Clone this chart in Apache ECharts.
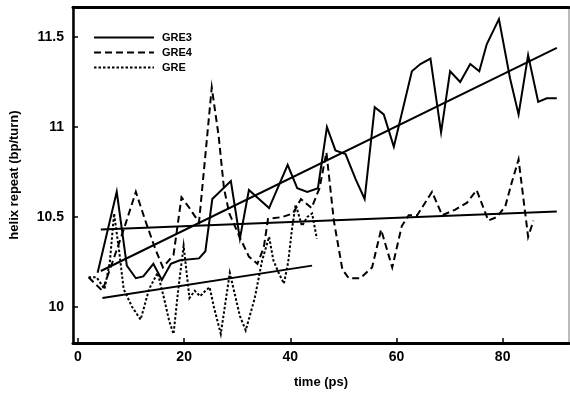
<!DOCTYPE html>
<html>
<head>
<meta charset="utf-8">
<script src="https://cdn.jsdelivr.net/npm/echarts@6/dist/echarts.min.js"></script>
<style>
  html, body { margin: 0; padding: 0; background: #fff; }
  #chart { width: 570px; height: 394px; }
</style>
</head>
<body>
<div id="chart"></div>
<script>
// Helix repeat of three DNA systems over a molecular dynamics run.
var gre3Time  = [3.7, 7.3, 9.2, 10.9, 12.3, 14.2, 15.8, 17.5, 19.2, 22.8, 24.0, 25.3, 28.8, 30.5, 32.2, 36.0, 39.5, 41.3, 43.2, 45.2, 46.9, 48.5, 50.4, 52.3, 54.0, 55.9, 57.6, 59.5, 62.9, 64.5, 66.4, 68.4, 70.1, 72.0, 73.9, 75.6, 77.0, 79.3, 81.4, 83.0, 84.8, 86.7, 88.3, 90.2];
var gre3Helix = [10.19, 10.64, 10.23, 10.16, 10.17, 10.24, 10.15, 10.24, 10.26, 10.27, 10.31, 10.60, 10.70, 10.38, 10.65, 10.55, 10.79, 10.66, 10.64, 10.66, 11.00, 10.87, 10.85, 10.71, 10.60, 11.11, 11.07, 10.89, 11.31, 11.35, 11.38, 10.97, 11.31, 11.25, 11.35, 11.31, 11.46, 11.60, 11.27, 11.07, 11.40, 11.14, 11.16, 11.16];

var gre4Time  = [2.0, 4.6, 6.5, 8.5, 10.9, 12.8, 14.6, 16.0, 18.0, 19.5, 21.0, 22.8, 25.2, 26.5, 27.5, 28.5, 30.6, 32.2, 33.8, 35.0, 35.8, 38.5, 40.5, 42.0, 44.0, 45.5, 46.8, 48.2, 49.8, 51.0, 53.2, 55.4, 57.1, 59.2, 61.0, 62.3, 63.9, 66.7, 68.6, 71.0, 73.3, 75.1, 77.3, 78.9, 80.5, 81.7, 83.0, 84.8, 85.8];
var gre4Helix = [10.165, 10.09, 10.25, 10.42, 10.64, 10.47, 10.32, 10.22, 10.29, 10.61, 10.55, 10.47, 11.22, 10.95, 10.66, 10.52, 10.38, 10.28, 10.24, 10.33, 10.49, 10.50, 10.52, 10.60, 10.55, 10.66, 10.86, 10.48, 10.21, 10.16, 10.16, 10.22, 10.43, 10.22, 10.45, 10.51, 10.51, 10.64, 10.51, 10.54, 10.58, 10.65, 10.48, 10.50, 10.56, 10.69, 10.82, 10.39, 10.48];

var greTime  = [2.0, 3.5, 5.0, 6.0, 6.8, 7.8, 8.6, 10.2, 11.8, 13.4, 15.0, 16.2, 17.2, 18.0, 18.9, 19.9, 21.0, 22.0, 23.0, 24.0, 24.8, 25.6, 26.9, 28.6, 30.5, 31.6, 33.3, 34.7, 36.0, 36.8, 37.8, 38.8, 39.6, 40.3, 41.0, 42.2, 43.2, 44.1, 45.0];
var greHelix = [10.165, 10.165, 10.10, 10.25, 10.52, 10.30, 10.10, 10.00, 9.93, 10.10, 10.19, 10.05, 9.92, 9.85, 10.10, 10.34, 10.05, 10.09, 10.06, 10.09, 10.11, 10.00, 9.85, 10.19, 9.95, 9.87, 10.05, 10.26, 10.39, 10.26, 10.19, 10.13, 10.25, 10.43, 10.57, 10.45, 10.50, 10.52, 10.38];

// Linear fits: [start time, end time] and [start value, end value]
var fitGre3Time  = [4.3, 90.2];
var fitGre3Helix = [10.20, 11.44];
var fitGre4Time  = [4.3, 90.2];
var fitGre4Helix = [10.43, 10.53];
var fitGreTime   = [4.6, 44.1];
var fitGreHelix  = [10.05, 10.23];

var xTicks = [0, 20, 40, 60, 80];
var yTicks = [10, 10.5, 11, 11.5];

function pairs(xs, ys) {
  return xs.map(function (x, i) { return [x, ys[i]]; });
}

var FONT = '"Liberation Sans", Arial, sans-serif';
var INK = '#000';

function lineSeries(name, data, type, width) {
  return {
    name: name,
    type: 'line',
    data: data,
    showSymbol: false,
    symbol: 'none',
    silent: true,
    animation: false,
    lineStyle: { color: INK, width: width, type: type, cap: 'butt', join: 'miter' },
    itemStyle: { color: INK }
  };
}

var chart = echarts.init(document.getElementById('chart'), null, { renderer: 'canvas' });

chart.setOption({
  backgroundColor: '#fff',
  animation: false,
  grid: {
    left: 72, right: 1, top: 7, bottom: 51,
    show: true, borderColor: '#777', borderWidth: 1, backgroundColor: 'transparent'
  },
  legend: {
    data: ['GRE3', 'GRE4', 'GRE'],
    orient: 'vertical',
    left: 93, top: 32, padding: 0,
    itemWidth: 60, itemHeight: 12, itemGap: 4,
    itemStyle: { opacity: 0 },
    textStyle: { color: INK, fontFamily: FONT, fontWeight: 'bold', fontSize: 11, padding: [0, 0, 0, 3] },
    selectedMode: false
  },
  xAxis: [{
    type: 'value', position: 'bottom',
    min: -0.94, max: 92.5,
    name: 'time (ps)', nameLocation: 'middle', nameGap: 33,
    nameTextStyle: { color: INK, fontFamily: FONT, fontWeight: 'bold', fontSize: 13 },
    axisLine: { show: true, onZero: false, lineStyle: { color: INK, width: 3 } },
    axisTick: { show: true, inside: true, length: 5, customValues: xTicks, lineStyle: { color: INK, width: 1.5 } },
    axisLabel: { customValues: xTicks, color: INK, fontFamily: FONT, fontWeight: 'bold', fontSize: 14, margin: 7 },
    splitLine: { show: false }
  }, {
    type: 'value', position: 'top',
    min: -0.94, max: 92.5,
    axisLine: { show: true, onZero: false, lineStyle: { color: INK, width: 3 } },
    axisTick: { show: false },
    axisLabel: { show: false },
    splitLine: { show: false }
  }],
  yAxis: {
    type: 'value',
    min: 9.8, max: 11.667,
    name: 'helix repeat (bp/turn)', nameLocation: 'middle', nameGap: 52, nameRotate: 90,
    nameTextStyle: { color: INK, fontFamily: FONT, fontWeight: 'bold', fontSize: 13 },
    axisLine: { show: true, onZero: false, lineStyle: { color: INK, width: 2.5 } },
    axisTick: { show: true, inside: true, length: 5, customValues: yTicks, lineStyle: { color: INK, width: 1.5 } },
    axisLabel: { customValues: yTicks, color: INK, fontFamily: FONT, fontWeight: 'bold', fontSize: 14, margin: 9 },
    splitLine: { show: false }
  },
  series: [
    lineSeries('GRE3', pairs(gre3Time, gre3Helix), 'solid', 2),
    lineSeries('GRE4', pairs(gre4Time, gre4Helix), [7, 4], 2),
    lineSeries('GRE', pairs(greTime, greHelix), [2.5, 2], 2),
    lineSeries('GRE3 fit', pairs(fitGre3Time, fitGre3Helix), 'solid', 2),
    lineSeries('GRE4 fit', pairs(fitGre4Time, fitGre4Helix), 'solid', 2),
    lineSeries('GRE fit', pairs(fitGreTime, fitGreHelix), 'solid', 2)
  ]
});
</script>
</body>
</html>
